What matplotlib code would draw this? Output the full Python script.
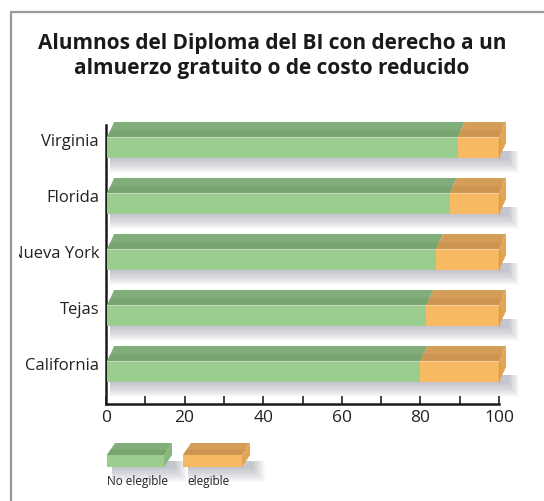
import matplotlib.pyplot as plt
from matplotlib.patches import Polygon, Rectangle
from matplotlib.lines import Line2D
from matplotlib.transforms import Bbox, TransformedBbox
import numpy as np

states = ['Virginia', 'Florida', 'Nueva York', 'Tejas', 'California']
no_elegible = [89.5, 87.5, 84, 81.5, 80]
elegible = [10.5, 12.5, 16, 18.5, 20]
legend_names = ['No elegible', 'elegible']
xticks_major = [0, 20, 40, 60, 80, 100]
xticks_minor = [10, 30, 50, 70, 90]

W, H = 544, 501
green = {'front': '#9bcd8f', 'top': '#82ae7b', 'band': '#78a470', 'side': '#86b87d'}
orange = {'front': '#f7b962', 'top': '#d49d58', 'band': '#cc9652', 'side': '#e2a557'}

plt.rcParams['font.family'] = ['Open Sans', 'DejaVu Sans']

fig = plt.figure(figsize=(W / 100, H / 100), dpi=100)
fig.patch.set_facecolor('white')

# main axes, placed in pixel positions
ax_l, ax_r, ax_t, ax_b = 106, 499, 115, 404
ax = fig.add_axes([ax_l / W, 1 - ax_b / H, (ax_r - ax_l) / W, (ax_b - ax_t) / H])
ax.set_facecolor('none')

sx = (ax_r - ax_l) / 100.0   # px per x unit
sy = 56.0                    # px per category
yc0 = 147.5                  # px of first front face centre
ax.set_xlim(0, 100)
ax.set_ylim((ax_b - yc0) / sy, (ax_t - yc0) / sy)

ddx = 7 / sx
ddy = 15 / sy
hh = 21 / sy


def box(a, x0, x1, yc, h, dx, dy, col, side=False, z=3):
    top = yc - h / 2
    bot = yc + h / 2
    a.add_patch(Rectangle((x0, top), x1 - x0, h, facecolor=col['front'],
                          edgecolor='none', zorder=z, clip_on=False))
    a.add_patch(Polygon([(x0, top), (x1, top), (x1 + dx, top - dy), (x0 + dx, top - dy)],
                        closed=True, facecolor=col['top'], edgecolor='none', zorder=z, clip_on=False))
    f = 0.45
    a.add_patch(Polygon([(x0, top), (x1, top), (x1 + dx * f, top - dy * f), (x0 + dx * f, top - dy * f)],
                        closed=True, facecolor=col['band'], edgecolor='none', zorder=z, clip_on=False))
    if side:
        a.add_patch(Polygon([(x1, top), (x1 + dx, top - dy), (x1 + dx, bot - dy), (x1, bot)],
                            closed=True, facecolor=col['side'], edgecolor='none', zorder=z, clip_on=False))


def shadow(a, x0, x1, yc, h, dx, dy, px_y, z=2):
    bot = yc + h / 2
    for k in range(1, 15):
        a.add_patch(Rectangle((x0 + dx * 0.6, bot - dy * 0.5), x1 - x0 + dx * (0.6 + k * 0.12),
                              dy * 0.5 + k * (1.1 / px_y), facecolor='#5a6070', alpha=0.028,
                              edgecolor='none', zorder=z, clip_on=False))


for i, s in enumerate(states):
    yc = i
    a_ = no_elegible[i]
    b_ = elegible[i]
    shadow(ax, 0, a_ + b_, yc, hh, ddx, ddy, sy)
    box(ax, 0.3, a_, yc, hh, ddx, ddy, green)
    box(ax, a_, a_ + b_, yc, hh, ddx, ddy, orange, side=True)
    ax.plot([0.3, a_ + b_], [yc - hh / 2, yc - hh / 2], color='white', alpha=0.35, lw=0.8,
            zorder=4, clip_on=False)
    ax.plot([a_ + b_, a_ + b_], [yc - hh / 2, yc + hh / 2], color='#c88f47', alpha=0.6, lw=0.8,
            zorder=4, clip_on=False)

ax.set_yticks(np.arange(len(states)) - 7.5 / sy)
ax.set_yticklabels(states, fontsize=12, color='#222222')
ax.tick_params(axis='y', length=0, pad=5)
clip = TransformedBbox(Bbox([[19 / W, 0], [1, 1]]), fig.transFigure)
for lbl in ax.get_yticklabels():
    lbl.set_clip_box(clip)
    lbl.set_clip_on(True)

ax.set_xticks(xticks_major)
ax.set_xticks(xticks_minor, minor=True)
ax.set_xticklabels([str(v) for v in xticks_major], fontsize=12.5, color='#222222')
ax.tick_params(axis='x', which='both', direction='in', length=6, width=1.2, color='#222222', pad=4)

for sp in ['top', 'right']:
    ax.spines[sp].set_visible(False)
ax.spines['left'].set_bounds((404 - yc0) / sy, (125 - yc0) / sy)
ax.spines['bottom'].set_bounds(0, 100)
ax.spines['left'].set_linewidth(1.8)
ax.spines['bottom'].set_linewidth(1.8)
ax.spines['left'].set_color('#1a1a1a')
ax.spines['bottom'].set_color('#1a1a1a')

# overlay in pixel coordinates for legend, title and frame
ov = fig.add_axes([0, 0, 1, 1], zorder=5)
ov.set_xlim(0, W)
ov.set_ylim(H, 0)
ov.axis('off')
ov.set_facecolor('none')

leg_x = [(107, 164), (183, 242)]
leg_txt_x = [107, 187]
for (x0, x1), col, name, tx in zip(leg_x, [green, orange], legend_names, leg_txt_x):
    shadow(ov, x0, x1, 461, 12, 8, 12, 1.0)
    box(ov, x0, x1, 461, 12, 8, 12, col, side=True, z=6)
    ov.text(tx, 482, name, fontsize=8.5, color='#222222', va='center', ha='left')

ov.text(W / 2, 56, 'Alumnos del Diploma del BI con derecho a un\nalmuerzo gratuito o de costo reducido',
        ha='center', va='center', fontsize=15, fontweight='bold', color='#1a1a1a', linespacing=1.3)

# white margin and grey frame (left and top only)
ov.add_patch(Rectangle((0, 0), 10, H, facecolor='white', edgecolor='none', zorder=8))
ov.add_line(Line2D([11, 11, W], [H, 12, 12], color='#9a9a9a', lw=1.6, zorder=9))

fig.savefig('out.png', dpi=100, facecolor='white')
